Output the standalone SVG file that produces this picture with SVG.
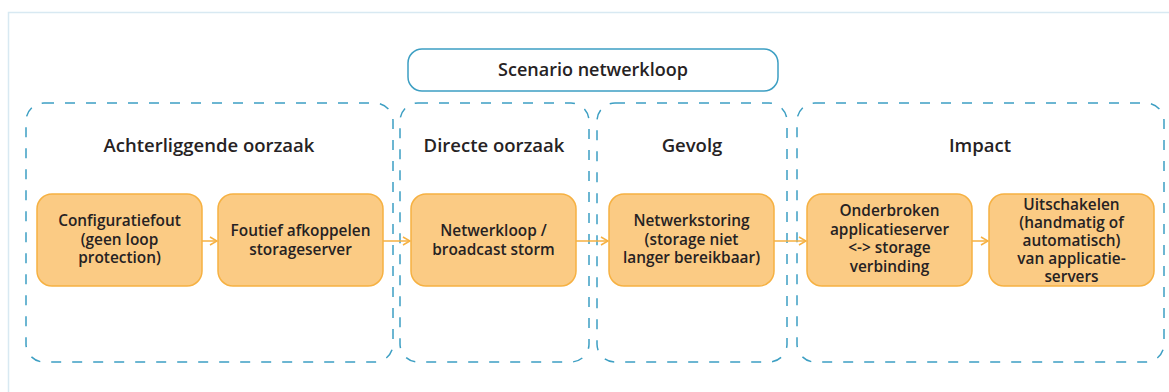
<svg xmlns="http://www.w3.org/2000/svg" width="1169" height="392" viewBox="0 0 1169 392">
<defs>
<style>
.frame{fill:none;stroke:#d8e9f2;stroke-width:1.5}
.grp{fill:none;stroke:#3d9fc3;stroke-width:1.5;stroke-dasharray:10 11}
.title{fill:#fff;stroke:#3d9fc3;stroke-width:1.5}
.node{fill:#fbcb84;stroke:#f6b142;stroke-width:1.5}
.t{font-family:"Open Sans","Noto Sans",sans-serif;font-weight:600;fill:#262223;text-anchor:middle}
.nt{font-size:15.4px}
.ht{font-size:18.5px}
.tt{font-size:18px}
.conn{fill:none;stroke:#f6b142;stroke-width:1.5}
</style>
<marker id="arr" viewBox="0 0 10 10" refX="9" refY="5" markerWidth="10" markerHeight="10" markerUnits="userSpaceOnUse" orient="auto">
<path d="M2,1 L9,5 L2,9" fill="none" stroke="#f6b142" stroke-width="1.5"/>
</marker>
</defs>
<rect width="1169" height="392" fill="#fff"/>
<rect class="frame" x="8.5" y="12.5" width="1180" height="400"/>

<g id="title">
<rect class="title" x="408" y="49" width="370" height="42" rx="14"/>
<text class="t tt" x="593" y="76">Scenario netwerkloop</text>
</g>

<g id="group-achterliggende-oorzaak">
<rect class="grp" x="26" y="103" width="367" height="259" rx="18"/>
<text class="t ht" x="209" y="152">Achterliggende oorzaak</text>
</g>
<g id="group-directe-oorzaak">
<rect class="grp" x="400" y="103" width="189" height="259" rx="18"/>
<text class="t ht" x="494" y="152">Directe oorzaak</text>
</g>
<g id="group-gevolg">
<rect class="grp" x="597" y="103" width="190" height="259" rx="18"/>
<text class="t ht" x="692" y="152">Gevolg</text>
</g>
<g id="group-impact">
<rect class="grp" x="797" y="103" width="367" height="259" rx="18"/>
<text class="t ht" x="980" y="152">Impact</text>
</g>

<g id="connectors">
<line class="conn" x1="202" y1="241" x2="217" y2="241" marker-end="url(#arr)"/>
<line class="conn" x1="383" y1="241" x2="410" y2="241" marker-end="url(#arr)"/>
<line class="conn" x1="576" y1="241" x2="608" y2="241" marker-end="url(#arr)"/>
<line class="conn" x1="774" y1="241" x2="806" y2="241" marker-end="url(#arr)"/>
<line class="conn" x1="972" y1="241" x2="988" y2="241" marker-end="url(#arr)"/>
</g>

<g id="n1">
<rect class="node" x="37" y="194" width="165" height="92" rx="15"/>
<text class="t nt" x="119.5" y="226">Configuratiefout<tspan x="119.5" dy="18.5">(geen loop</tspan><tspan x="119.5" dy="18.5">protection)</tspan></text>
</g>
<g id="n2">
<rect class="node" x="218" y="194" width="165" height="92" rx="15"/>
<text class="t nt" x="300.5" y="236">Foutief afkoppelen<tspan x="300.5" dy="18.5">storageserver</tspan></text>
</g>
<g id="n3">
<rect class="node" x="411" y="194" width="165" height="92" rx="15"/>
<text class="t nt" x="493.5" y="236">Netwerkloop /<tspan x="493.5" dy="18.5">broadcast storm</tspan></text>
</g>
<g id="n4">
<rect class="node" x="609" y="194" width="165" height="92" rx="15"/>
<text class="t nt" x="691.5" y="226">Netwerkstoring<tspan x="691.5" dy="18.5">(storage niet</tspan><tspan x="691.5" dy="18.5">langer bereikbaar)</tspan></text>
</g>
<g id="n5">
<rect class="node" x="807" y="194" width="165" height="92" rx="15"/>
<text class="t nt" x="889.5" y="216">Onderbroken<tspan x="889.5" dy="18.5">applicatieserver</tspan><tspan x="889.5" dy="18.5">&lt;-&gt; storage</tspan><tspan x="889.5" dy="18.5">verbinding</tspan></text>
</g>
<g id="n6">
<rect class="node" x="989" y="194" width="165" height="92" rx="15"/>
<text class="t nt" x="1071.5" y="210">Uitschakelen<tspan x="1071.5" dy="18">(handmatig of</tspan><tspan x="1071.5" dy="18">automatisch)</tspan><tspan x="1071.5" dy="18">van applicatie-</tspan><tspan x="1071.5" dy="18">servers</tspan></text>
</g>
</svg>
